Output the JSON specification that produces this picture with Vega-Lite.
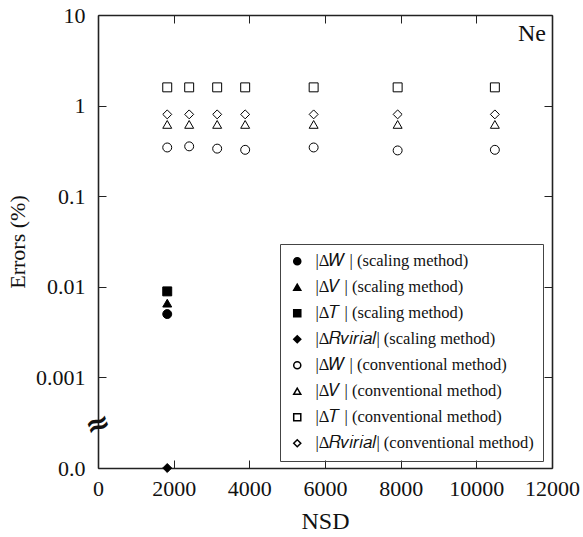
{
  "$schema": "https://vega.github.io/schema/vega-lite/v6.json",
  "autosize": {"type": "none"},
  "padding": {"left": 98, "top": 15, "right": 31, "bottom": 69},
  "width": 454,
  "height": 453,
  "background": "white",
  "config": {
    "font": "Liberation Serif",
    "view": {"stroke": null},
    "axis": {
      "grid": false,
      "domainColor": "#222",
      "domainWidth": 1.6,
      "tickColor": "#222",
      "tickWidth": 1,
      "tickSize": -8,
      "labelFont": "Liberation Serif",
      "labelFontSize": 22,
      "labelColor": "#111",
      "labelOverlap": false,
      "labelFlush": false,
      "titleFont": "Liberation Serif",
      "titleFontWeight": "normal",
      "titleColor": "#111"
    },
    "legend": {
      "labelFont": "Liberation Serif",
      "labelFontSize": 16.5,
      "labelColor": "#111",
      "labelLimit": 400
    }
  },
  "data": {
    "values": [
      {"nsd": 1830, "err": 0.0050, "series": "|Δ𝑊 | (scaling method)"},
      {"nsd": 1830, "err": 0.0066, "series": "|Δ𝑉 | (scaling method)"},
      {"nsd": 1830, "err": 0.0089, "series": "|Δ𝑇 | (scaling method)"},
      {"nsd": 1830, "err": 0, "series": "|Δ𝑅𝑣𝑖𝑟𝑖𝑎𝑙| (scaling method)"},
      {"nsd": 1830, "err": 0.345, "series": "|Δ𝑊 | (conventional method)"},
      {"nsd": 2410, "err": 0.355, "series": "|Δ𝑊 | (conventional method)"},
      {"nsd": 3150, "err": 0.335, "series": "|Δ𝑊 | (conventional method)"},
      {"nsd": 3890, "err": 0.325, "series": "|Δ𝑊 | (conventional method)"},
      {"nsd": 5700, "err": 0.345, "series": "|Δ𝑊 | (conventional method)"},
      {"nsd": 7920, "err": 0.32, "series": "|Δ𝑊 | (conventional method)"},
      {"nsd": 10490, "err": 0.325, "series": "|Δ𝑊 | (conventional method)"},
      {"nsd": 1830, "err": 0.62, "series": "|Δ𝑉 | (conventional method)"},
      {"nsd": 2410, "err": 0.62, "series": "|Δ𝑉 | (conventional method)"},
      {"nsd": 3150, "err": 0.62, "series": "|Δ𝑉 | (conventional method)"},
      {"nsd": 3890, "err": 0.62, "series": "|Δ𝑉 | (conventional method)"},
      {"nsd": 5700, "err": 0.62, "series": "|Δ𝑉 | (conventional method)"},
      {"nsd": 7920, "err": 0.62, "series": "|Δ𝑉 | (conventional method)"},
      {"nsd": 10490, "err": 0.62, "series": "|Δ𝑉 | (conventional method)"},
      {"nsd": 1830, "err": 1.59, "series": "|Δ𝑇 | (conventional method)"},
      {"nsd": 2410, "err": 1.59, "series": "|Δ𝑇 | (conventional method)"},
      {"nsd": 3150, "err": 1.59, "series": "|Δ𝑇 | (conventional method)"},
      {"nsd": 3890, "err": 1.59, "series": "|Δ𝑇 | (conventional method)"},
      {"nsd": 5700, "err": 1.59, "series": "|Δ𝑇 | (conventional method)"},
      {"nsd": 7920, "err": 1.59, "series": "|Δ𝑇 | (conventional method)"},
      {"nsd": 10490, "err": 1.59, "series": "|Δ𝑇 | (conventional method)"},
      {"nsd": 1830, "err": 0.80, "series": "|Δ𝑅𝑣𝑖𝑟𝑖𝑎𝑙| (conventional method)"},
      {"nsd": 2410, "err": 0.80, "series": "|Δ𝑅𝑣𝑖𝑟𝑖𝑎𝑙| (conventional method)"},
      {"nsd": 3150, "err": 0.80, "series": "|Δ𝑅𝑣𝑖𝑟𝑖𝑎𝑙| (conventional method)"},
      {"nsd": 3890, "err": 0.80, "series": "|Δ𝑅𝑣𝑖𝑟𝑖𝑎𝑙| (conventional method)"},
      {"nsd": 5700, "err": 0.80, "series": "|Δ𝑅𝑣𝑖𝑟𝑖𝑎𝑙| (conventional method)"},
      {"nsd": 7920, "err": 0.80, "series": "|Δ𝑅𝑣𝑖𝑟𝑖𝑎𝑙| (conventional method)"},
      {"nsd": 10490, "err": 0.80, "series": "|Δ𝑅𝑣𝑖𝑟𝑖𝑎𝑙| (conventional method)"}
    ]
  },
  "layer": [
    {
      "mark": {"type": "point", "filled": true, "stroke": "black", "strokeWidth": 1, "size": 80, "opacity": 1},
      "encoding": {
        "x": {
          "field": "nsd", "type": "quantitative",
          "scale": {"domain": [0, 12000], "nice": false, "zero": false},
          "axis": {"orient": "bottom", "title": "NSD", "titleFontSize": 24, "titlePadding": 10,
                   "values": [0, 2000, 4000, 6000, 8000, 10000, 12000], "format": "d", "labelPadding": 18}
        },
        "y": {
          "field": "err", "type": "quantitative",
          "scale": {"type": "log", "domain": [0.0001, 10], "nice": false, "clamp": true},
          "axis": {"orient": "left", "title": "Errors (%)", "titleFontSize": 22, "titlePadding": 6,
                   "values": [0.0001, 0.001, 0.01, 0.1, 1, 10],
                   "labelExpr": "datum.value < 0.0005 ? '0.0' : format(datum.value, '~g')",
                   "labelPadding": 21}
        },
        "shape": {
          "field": "series", "type": "nominal",
          "scale": {
            "domain": [
              "|Δ𝑊 | (scaling method)", "|Δ𝑉 | (scaling method)", "|Δ𝑇 | (scaling method)", "|Δ𝑅𝑣𝑖𝑟𝑖𝑎𝑙| (scaling method)",
              "|Δ𝑊 | (conventional method)", "|Δ𝑉 | (conventional method)", "|Δ𝑇 | (conventional method)", "|Δ𝑅𝑣𝑖𝑟𝑖𝑎𝑙| (conventional method)"
            ],
            "range": ["circle", "triangle-up", "square", "diamond", "circle", "triangle-up", "square", "diamond"]
          },
          "legend": {
            "title": null, "orient": "none", "legendX": 182, "legendY": 229,
            "strokeColor": "#444", "padding": 9, "rowPadding": 9, "symbolSize": 50,
            "labelOffset": 10,
            "encode": {"symbols": {"update": {"stroke": {"value": "black"}, "strokeWidth": {"value": 1}}}}
          }
        },
        "fill": {
          "field": "series", "type": "nominal",
          "scale": {
            "domain": [
              "|Δ𝑊 | (scaling method)", "|Δ𝑉 | (scaling method)", "|Δ𝑇 | (scaling method)", "|Δ𝑅𝑣𝑖𝑟𝑖𝑎𝑙| (scaling method)",
              "|Δ𝑊 | (conventional method)", "|Δ𝑉 | (conventional method)", "|Δ𝑇 | (conventional method)", "|Δ𝑅𝑣𝑖𝑟𝑖𝑎𝑙| (conventional method)"
            ],
            "range": ["black", "black", "black", "black", "white", "white", "white", "white"]
          },
          "legend": {
            "title": null, "orient": "none", "legendX": 182, "legendY": 229,
            "strokeColor": "#444", "padding": 9, "rowPadding": 9, "symbolSize": 50,
            "labelOffset": 10,
            "encode": {"symbols": {"update": {"stroke": {"value": "black"}, "strokeWidth": {"value": 1}}}}
          }
        }
      }
    },
    {
      "mark": {"type": "point", "opacity": 0},
      "encoding": {
        "x": {
          "field": "nsd", "type": "quantitative",
          "axis": {"orient": "top", "title": null, "labels": false,
                   "values": [0, 2000, 4000, 6000, 8000, 10000, 12000]}
        },
        "y": {
          "field": "err", "type": "quantitative",
          "axis": {"orient": "right", "title": null, "labels": false,
                   "values": [0.0001, 0.001, 0.01, 0.1, 1, 10]}
        }
      }
    },
    {
      "data": {"values": [{"label": "Ne"}]},
      "mark": {"type": "text", "align": "right", "baseline": "top", "dx": -6, "dy": 7, "fontSize": 24, "font": "Liberation Serif", "fill": "#111"},
      "encoding": {
        "x": {"datum": 12000, "type": "quantitative", "axis": null},
        "y": {"datum": 10, "type": "quantitative", "axis": null},
        "text": {"field": "label"}
      }
    },
    {
      "data": {"values": [{"label": "≈"}]},
      "mark": {"type": "text", "align": "center", "baseline": "middle", "fontSize": 30, "fontWeight": "bold", "font": "DejaVu Sans", "fill": "#111", "angle": -20},
      "encoding": {
        "x": {"datum": 0, "type": "quantitative", "axis": null},
        "y": {"datum": 0.0003, "type": "quantitative", "axis": null},
        "text": {"field": "label"}
      }
    }
  ],
  "resolve": {"axis": {"x": "independent", "y": "independent"}}
}
